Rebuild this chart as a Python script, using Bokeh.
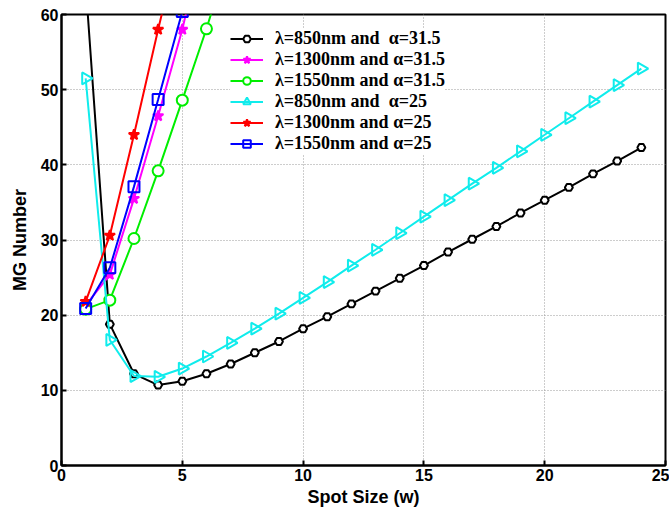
import math
from bokeh.plotting import figure
from bokeh.models import Range1d, FixedTicker, Legend
from bokeh.embed import file_html
from bokeh.resources import INLINE

# ---- data ----
w_long = list(range(1, 25))
mg_850_315 = [64.0, 18.8, 12.2, 10.7, 11.2, 12.2, 13.5, 15.0, 16.5, 18.2, 19.8, 21.5,
              23.2, 24.9, 26.6, 28.4, 30.1, 31.8, 33.6, 35.3, 37.0, 38.8, 40.5, 42.3]
mg_850_25 = [51.5, 16.7, 11.9, 11.8, 12.9, 14.5, 16.3, 18.2, 20.2, 22.3, 24.4, 26.6,
             28.7, 30.9, 33.1, 35.3, 37.5, 39.6, 41.8, 44.0, 46.2, 48.4, 50.6, 52.8]
w_1300_315 = [1, 2, 3, 4, 5, 6]
mg_1300_315 = [21.3, 25.4, 35.5, 46.5, 58.0, 72.0]
w_1550_315 = [1, 2, 3, 4, 5, 6, 7]
mg_1550_315 = [20.8, 22.0, 30.2, 39.2, 48.6, 58.1, 68.5]
w_1300_25 = [1, 2, 3, 4, 5]
mg_1300_25 = [21.8, 30.6, 44.0, 58.0, 71.5]
w_1550_25 = [1, 2, 3, 4, 5]
mg_1550_25 = [20.9, 26.3, 37.1, 48.7, 60.4]

x_ticks = [0, 5, 10, 15, 20, 25]
y_ticks = [0, 10, 20, 30, 40, 50, 60]

labels = ["λ=850nm and  α=31.5", "λ=1300nm and α=31.5", "λ=1550nm and α=31.5",
          "λ=850nm and  α=25", "λ=1300nm and α=25", "λ=1550nm and α=25"]

p = figure(width=669, height=510, output_backend="svg", toolbar_location=None,
           x_range=Range1d(0, 25), y_range=Range1d(0, 60),
           min_border_left=61, min_border_right=4, min_border_top=14, min_border_bottom=45)
p.background_fill_color = "white"
p.border_fill_color = "white"
p.outline_line_color = "black"
p.outline_line_width = 2

for ax in (p.xaxis[0], p.yaxis[0]):
    ax.axis_line_width = 2
    ax.axis_line_color = "black"
    ax.major_tick_in = 5
    ax.major_tick_out = 0
    ax.minor_tick_line_color = None
    ax.major_tick_line_width = 2
    ax.major_label_text_font = "Liberation Sans"
    ax.major_label_text_font_style = "bold"
    ax.major_label_text_font_size = "16px"
    ax.major_label_text_color = "black"
    ax.axis_label_text_font = "Liberation Sans"
    ax.axis_label_text_font_style = "bold"
    ax.axis_label_text_font_size = "18px"
    ax.axis_label_text_color = "black"
    ax.major_label_standoff = 3
    ax.axis_label_standoff = 3

p.yaxis[0].axis_label_standoff = 8
p.xaxis[0].ticker = FixedTicker(ticks=x_ticks)
p.yaxis[0].ticker = FixedTicker(ticks=y_ticks)
p.xaxis[0].axis_label = "Spot Size (w)"
p.yaxis[0].axis_label = "MG Number"

p.grid.grid_line_color = "#9a9a9a"
p.grid.grid_line_dash = "1 2"
p.grid.grid_line_width = 1
p.xgrid.ticker = FixedTicker(ticks=x_ticks)
p.ygrid.ticker = FixedTicker(ticks=y_ticks)

lw = 2
series = [
    (w_long, mg_850_315, "black", "hex", "white", 8, labels[0], 0),
    (w_1300_315, mg_1300_315, "#ff00ff", "star", "#ff00ff", 11, labels[1], 0),
    (w_1550_315, mg_1550_315, "#00ee00", "circle", "white", 11, labels[2], 0),
    (w_long, mg_850_25, "#10ecec", "triangle", None, 12, labels[3], -math.pi / 2),
    (w_1300_25, mg_1300_25, "#ff0000", "star", "#ff0000", 11, labels[4], 0),
    (w_1550_25, mg_1550_25, "#0000ff", "square", None, 11, labels[5], 0),
]

items = []
for xs, ys, col, mk, fill, sz, lab, ang in series:
    r1 = p.line(xs, ys, line_color=col, line_width=lw)
    r2 = p.scatter(xs, ys, marker=mk, size=sz, line_color=col, line_width=2,
                   fill_color=fill, angle=ang)
    items.append((lab, [r1, r2]))

legend = Legend(items=items, location=(169, 311))
legend.label_text_font = "Liberation Serif"
legend.label_text_font_style = "bold"
legend.label_text_font_size = "18px"
legend.label_text_color = "black"
legend.glyph_width = 33
legend.glyph_height = 19
legend.label_height = 19
legend.label_standoff = 12
legend.spacing = 0
legend.padding = 2
legend.margin = 0
legend.border_line_color = None
legend.background_fill_color = "white"
legend.background_fill_alpha = 1.0
p.add_layout(legend, "center")

open("out.html", "w").write(file_html(p, INLINE))
